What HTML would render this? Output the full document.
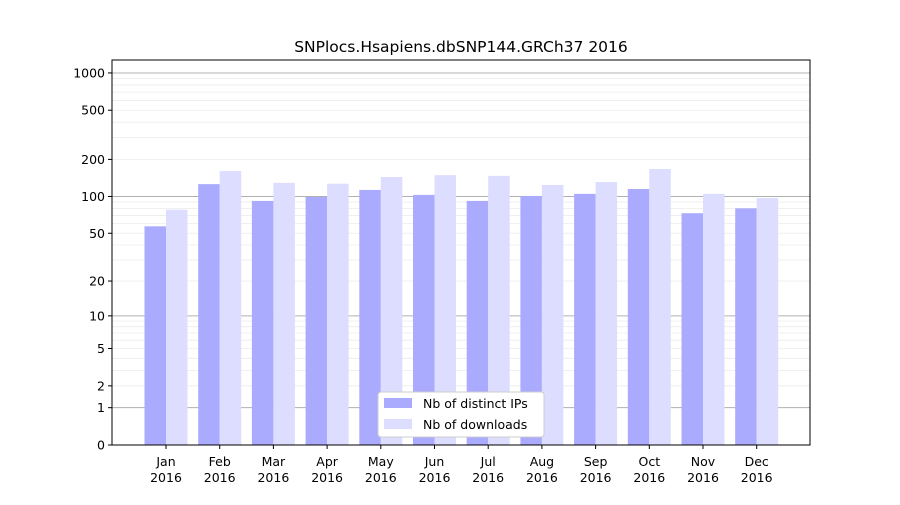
<!DOCTYPE html>
<html><head><meta charset="utf-8"><style>
body{margin:0;background:#fff;font-family:"Liberation Sans","DejaVu Sans",sans-serif}
svg text{font-family:"DejaVu Sans","Liberation Sans",sans-serif;font-size:12.5px;fill:#000}
</style></head><body>
<svg id="chart" width="900" height="500" xmlns="http://www.w3.org/2000/svg">
<rect width="900" height="500" fill="#fff"/>
<text x="461" y="52" text-anchor="middle" style="font-size:15.5px">SNPlocs.Hsapiens.dbSNP144.GRCh37 2016</text>
<g id="grid"></g><g id="bars"></g><g id="axes"></g>
</svg>
<script>
const months=["Jan","Feb","Mar","Apr","May","Jun","Jul","Aug","Sep","Oct","Nov","Dec"];
const ips=[57,126,92,99,113,103,92,101,105,115,73,80];
const downloads=[78,161,129,127,144,149,147,124,131,167,105,97];
const yTicks=[0,1,2,5,10,20,50,100,200,500,1000];
const NS="http://www.w3.org/2000/svg";
const L=112,R=810,T=60,B=445,K=124;
function y(v){return B-K*Math.log10(1+v);}
function xc(i){return 166+i*53.7;}
function mk(tag,attrs,parent){const e=document.createElementNS(NS,tag);for(const k in attrs)e.setAttribute(k,attrs[k]);parent.appendChild(e);return e;}
const grid=document.getElementById('grid'),bars=document.getElementById('bars'),axes=document.getElementById('axes');
for(const d of [1,10,100,1000]){for(let m=1;m<10;m++){const v=d*m;const yy=y(v);if(yy<T)continue;
 const major=(m===1);
 const g=mk('line',{x1:L,x2:R,y1:yy,y2:yy,stroke:major?'#b0b0b0':'#ececec','stroke-width':major?1:0.8},grid);
 
 }}
months.forEach((m,i)=>{
 const w=21.5;
 const b1=mk('rect',{x:xc(i)-w,y:y(ips[i]),width:w,height:B-y(ips[i]),fill:'#aaaaff'},bars);
 
 
 const b2=mk('rect',{x:xc(i),y:y(downloads[i]),width:w,height:B-y(downloads[i]),fill:'#ddddff'},bars);
 
 
 mk('line',{x1:xc(i),x2:xc(i),y1:B,y2:B+4,stroke:'#000'},axes);
 const t=mk('text',{x:xc(i),y:B+21,'text-anchor':'middle'},axes);t.textContent=m;
 
 
 const t2=mk('text',{x:xc(i),y:B+37,'text-anchor':'middle'},axes);t2.textContent='2016';
 
 
});
yTicks.forEach(v=>{const yy=y(v);
 mk('line',{x1:L-4,x2:L,y1:yy,y2:yy,stroke:'#000'},axes);
 const t=mk('text',{x:L-7,y:yy+4.5,'text-anchor':'end'},axes);t.textContent=v;
 
 });
const f=mk('rect',{x:L,y:T,width:R-L,height:B-T,fill:'none',stroke:'#000','stroke-width':1},axes);


const lg=mk('g',{},axes);


mk('rect',{x:378,y:392,width:166,height:45,rx:3,fill:'#fff',stroke:'#ccc'},lg);
mk('rect',{x:384,y:398,width:28,height:10,fill:'#aaaaff'},lg);
mk('rect',{x:384,y:419,width:28,height:10,fill:'#ddddff'},lg);
const l1=mk('text',{x:423,y:408},lg);l1.textContent='Nb of distinct IPs';


const l2=mk('text',{x:423,y:429},lg);l2.textContent='Nb of downloads';


</script>
</body></html>
